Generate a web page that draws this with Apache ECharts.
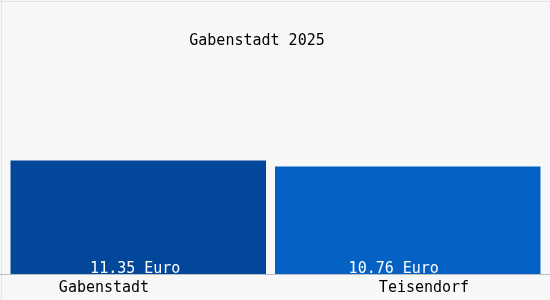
<!DOCTYPE html>
<html><head><meta charset="utf-8">
<script src="https://cdn.jsdelivr.net/npm/echarts@6/dist/echarts.min.js"></script>
<style>html,body{margin:0;padding:0;background:#f8f8f8}#c{width:550px;height:300px}</style>
</head><body><div id="c"></div>
<script>
const title = 'Gabenstadt 2025';
const categories = ['Gabenstadt', 'Teisendorf'];
const values = [11.35, 10.76];
const unit = 'Euro';
const colors = ['#02479a', '#0561c4'];

const font = 'DejaVu Sans Mono';
const chart = echarts.init(document.getElementById('c'));
const series = values.map((v, i) => ({
  type: 'bar',
  data: values.map((w, j) => j === i ? w : null),
  barWidth: i === 0 ? 256 : 266,
  barGap: '-100%',
  itemStyle: { color: colors[i] },
  silent: true,
  label: {
    show: true, position: 'insideBottom', distance: 0,
    offset: [i === 0 ? -3 : -14, 3],
    color: '#fff', fontFamily: font, fontSize: 15,
    formatter: p => p.value.toFixed(2) + ' ' + unit
  }
}));
chart.setOption({
  backgroundColor: '#f8f8f8',
  animation: false,
  title: { text: title, left: 252, top: 29, textAlign: 'center',
    textStyle: { fontFamily: font, fontSize: 15, fontWeight: 'normal', color: '#000' } },
  grid: { left: 10.5, right: 9.5, top: 24, bottom: 26 },
  xAxis: {
    type: 'category', data: categories,
    axisLine: { show: false },
    axisTick: { show: false },
    axisLabel: {
      margin: 7,
      formatter: (v, i) => i === 0 ? '{a|' + v + '}' : '{b|' + v + '}',
      rich: {
        a: { fontFamily: font, fontSize: 15, color: '#000', padding: [0, 78, 0, 0] },
        b: { fontFamily: font, fontSize: 15, color: '#000', padding: [0, 0, 0, 32] }
      }
    }
  },
  yAxis: { type: 'value', min: 0, max: 25, show: false, splitLine: { show: false } },
  graphic: [
    { type: 'line', shape: { x1: 1.5, y1: 0, x2: 1.5, y2: 300 }, style: { stroke: '#e4e4e4', lineWidth: 1 } },
    { type: 'line', shape: { x1: 0, y1: 1.5, x2: 550, y2: 1.5 }, style: { stroke: '#e4e4e4', lineWidth: 1 } },
    { type: 'line', z: 10, shape: { x1: 0, y1: 274.5, x2: 550, y2: 274.5 }, style: { stroke: '#b8bec8', lineWidth: 1 } }
  ],
  series: series
});
</script></body></html>
